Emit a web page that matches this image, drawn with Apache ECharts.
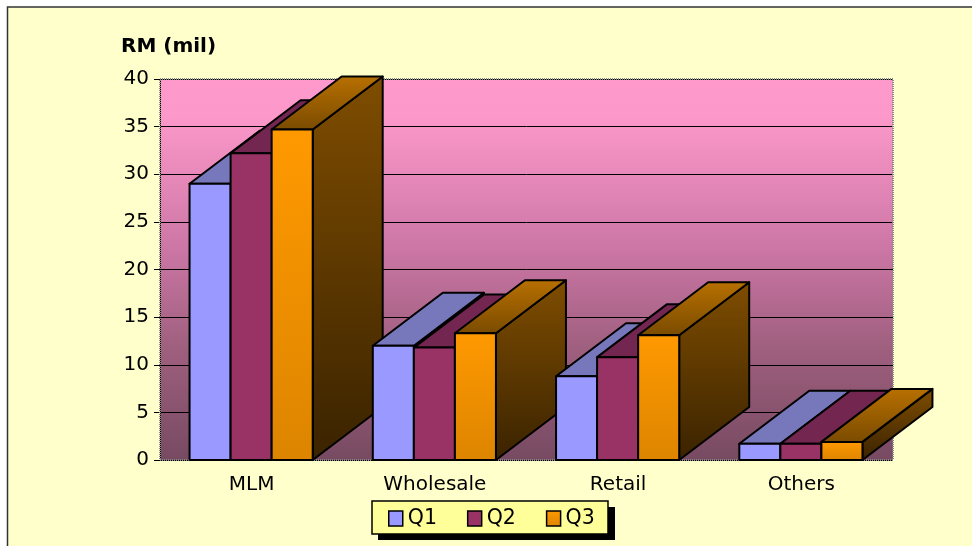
<!DOCTYPE html>
<html><head><meta charset="utf-8">
<style>html,body{margin:0;padding:0;background:#fff}#c{width:972px;height:546px}</style>
<script src="https://cdn.jsdelivr.net/npm/echarts@6/dist/echarts.min.js"></script>
</head><body><div id="c"></div>
<script>
var categories = ['MLM','Wholesale','Retail','Others'];
var q1 = [29, 12, 8.8, 1.7];
var q2 = [32.2, 11.8, 10.8, 1.7];
var q3 = [34.7, 13.3, 13.1, 1.9];
var seriesNames = ['Q1','Q2','Q3'];
var FONT = '"DejaVu Sans"';
var LG = echarts.graphic.LinearGradient;
function grad(a,b){return new LG(0,0,0,1,[{offset:0,color:a},{offset:1,color:b}]);}
var palette = [
  {front:'#9999FF', top:'#7777BB', side:'#4A4A80'},
  {front:'#993366', top:'#732650', side:'#4C1A33'},
  {front:grad('#FF9900','#DD8500'), top:grad('#B87000','#7A4B00'), side:grad('#7F4D00','#3A2300')}
];
var DX=70, DY=-53, BAR=0.224;
function render(idx){
  return function(params, api){
    var c=api.value(0), v=api.value(1);
    var base=api.coord([c,0]), tip=api.coord([c,v]), band=api.size([1,0])[0];
    var w=band*BAR, x0=base[0]+(idx-1.5)*w-0.5, x1=x0+w, yb=base[1], yt=tip[1];
    var st=function(f){return {fill:f,stroke:'#000',lineWidth:2,lineJoin:'round'};};
    var p=palette[idx], z=c*10+idx;
    return {type:'group',children:[
      {type:'polygon',z2:z,shape:{points:[[x1,yt],[x1+DX,yt+DY],[x1+DX,yb+DY],[x1,yb]]},style:st(p.side)},
      {type:'polygon',z2:z,shape:{points:[[x0,yt],[x0+DX,yt+DY],[x1+DX,yt+DY],[x1,yt]]},style:st(p.top)},
      {type:'rect',z2:z,shape:{x:x0,y:yt,width:w,height:yb-yt},style:st(p.front)}
    ]};
  };
}
function mk(i,vals){
  return {type:'custom',name:seriesNames[i],renderItem:render(i),clip:false,
    itemStyle:{color:palette[i].front},encode:{x:0,y:1},
    data:vals.map(function(v,k){return [k,v];})};
}
var chart=echarts.init(document.getElementById('c'),null,{renderer:'canvas'});
chart.setOption({
  animation:false,
  backgroundColor:'#fff',
  graphic:[
    {type:'rect',z:-10,silent:true,shape:{x:7.5,y:7,width:980,height:560},
      style:{fill:'#FFFFCC',stroke:'#333',lineWidth:1.5}},
    {type:'rect',z:1,silent:true,shape:{x:160,y:79,width:733,height:381},
      style:{fill:null,stroke:'#888',lineWidth:2,lineDash:[1,1]}},
    {type:'rect',z:1,silent:true,shape:{x:378,y:507,width:237,height:33},
      style:{fill:'#000'}},
    {type:'rect',z:1,silent:true,shape:{x:372,y:501,width:236,height:33},
      style:{fill:'#FFFF99',stroke:'#000',lineWidth:1.5}}
  ],
  grid:{left:160,top:79,width:733,height:381,show:true,
    backgroundColor:new LG(0,0,0,1,[
      {offset:0,color:'#FF99CC'},{offset:0.1,color:'#FC98CA'},
      {offset:0.45,color:'#CB76A5'},{offset:0.7,color:'#A0607F'},{offset:1,color:'#774A62'}]),
    borderWidth:0},
  title:{text:'RM (mil)',left:116,top:32,textStyle:{fontFamily:FONT,fontWeight:'bold',fontSize:20,color:'#000'}},
  legend:{left:388,top:508,orient:'horizontal',padding:0,itemGap:30,itemWidth:14,itemHeight:15,
    itemStyle:{borderColor:'#000',borderWidth:1.5},
    textStyle:{fontFamily:FONT,fontSize:20.5,color:'#000'},
    icon:'rect',data:seriesNames,z:5},
  xAxis:{type:'category',data:categories,
    axisLine:{show:false},axisTick:{show:false},
    axisLabel:{fontFamily:FONT,fontSize:20,color:'#000',margin:15}},
  yAxis:{type:'value',min:0,max:40,interval:5,
    axisLine:{show:true,lineStyle:{color:'#000',width:1}},
    axisTick:{show:true,length:6,lineStyle:{color:'#000',width:1}},
    splitLine:{show:true,lineStyle:{color:'#000',width:1}},
    axisLabel:{fontFamily:FONT,fontSize:20,color:'#000',margin:11}},
  series:[mk(0,q1),mk(1,q2),mk(2,q3)]
});
</script></body></html>
